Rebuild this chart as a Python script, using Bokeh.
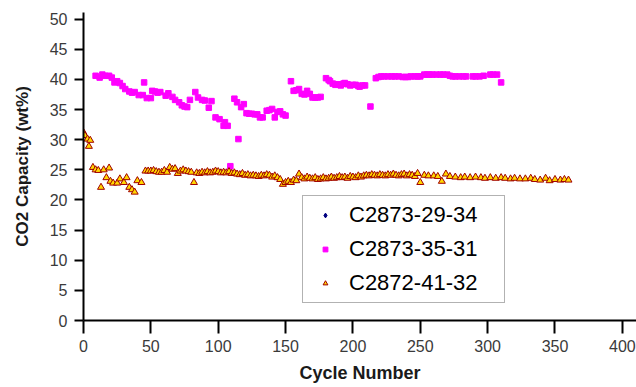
from bokeh.plotting import figure
from bokeh.models import Range1d, FixedTicker, Legend, LegendItem
from bokeh.embed import file_html
from bokeh.resources import INLINE

nan = float("nan")

# ---- data ----
series_names = ["C2873-29-34", "C2873-35-31", "C2872-41-32"]

# first series has no visible points in the chart
s1_cycle = [nan]
s1_cap = [nan]

s2_cycle = [9, 12, 14, 16, 19, 21, 23, 25, 27, 29, 31, 34, 36, 38, 41, 44, 45, 47, 50, 51,
            53, 55, 57, 61, 63, 66, 68, 71, 73, 75, 77, 79, 83, 85, 88, 90, 93, 95, 98, 101,
            104, 105, 107, 109, 112, 114, 115, 117, 119, 121, 123, 125, 127, 129, 131, 133, 136, 138, 140, 142,
            144, 146, 148, 150, 154, 156, 158, 160, 162, 164, 166, 168, 170, 172, 174, 176, 180, 182, 183, 185,
            187, 189, 191, 193, 194, 196, 198, 200, 202, 204, 205, 207, 209, 213, 217, 219, 221, 223, 226, 229,
            231, 234, 237, 239, 241, 243, 246, 248, 250, 253, 255, 257, 259, 262, 265, 267, 270, 272, 274, 276,
            279, 282, 284, 289, 291, 294, 297, 302, 304, 307, 310]
s2_cap = [40.6, 40.3, 40.8, 40.6, 40.6, 40.3, 39.5, 39.7, 39.4, 38.9, 38.4, 38.0, 37.8, 37.9, 37.4, 37.4, 39.5, 36.9, 36.9, 38.1,
          38.0, 37.8, 37.9, 37.3, 37.7, 37.1, 36.6, 36.2, 35.7, 35.5, 35.4, 36.6, 37.9, 37.0, 36.6, 36.5, 35.3, 36.4, 33.7, 33.4,
          32.3, 32.9, 32.3, 25.6, 36.8, 36.2, 30.1, 35.4, 35.9, 34.4, 34.3, 34.3, 34.2, 34.2, 33.7, 33.7, 34.8, 34.9, 35.1, 33.7,
          34.6, 34.7, 34.2, 34.0, 39.7, 38.1, 38.2, 38.4, 37.6, 37.5, 38.1, 37.6, 37.0, 37.0, 37.0, 37.1, 40.2, 39.9, 39.7, 39.3,
          39.1, 39.2, 39.0, 39.3, 39.4, 39.2, 39.0, 39.1, 39.1, 38.9, 38.8, 39.0, 39.0, 35.5, 40.2, 40.4, 40.5, 40.5, 40.5, 40.5,
          40.5, 40.5, 40.4, 40.4, 40.4, 40.5, 40.5, 40.5, 40.5, 40.8, 40.8, 40.8, 40.8, 40.8, 40.8, 40.8, 40.8, 40.6, 40.5, 40.5,
          40.5, 40.5, 40.5, 40.5, 40.5, 40.5, 40.6, 40.8, 40.8, 40.8, 39.5]

s3_cycle = [0, 1, 3, 4, 5, 7, 9, 11, 13, 15, 17, 19, 20, 22, 25, 27, 30, 32, 34, 36,
            38, 40, 43, 46, 48, 50, 52, 54, 56, 58, 60, 62, 64, 66, 68, 70, 72, 74, 76, 78,
            80, 82, 84, 86, 88, 90, 92, 94, 96, 98, 100, 102, 104, 106, 108, 110, 112, 114, 116, 118,
            120, 122, 124, 126, 128, 130, 132, 134, 136, 138, 140, 142, 144, 146, 148, 150, 152, 154, 156, 158,
            160, 162, 164, 166, 168, 170, 172, 174, 176, 178, 180, 182, 184, 186, 188, 190, 192, 194, 196, 198,
            200, 202, 204, 206, 208, 210, 212, 214, 216, 218, 220, 222, 224, 226, 228, 230, 232, 234, 236, 238,
            240, 242, 244, 246, 248, 250, 253, 256, 260, 263, 266, 269, 272, 276, 280, 283, 287, 291, 295, 298,
            302, 306, 310, 313, 317, 320, 324, 328, 332, 335, 339, 343, 346, 350, 354, 357, 360]
s3_cap = [31.2, 30.7, 30.1, 28.9, 29.9, 25.4, 25.0, 24.9, 22.1, 25.0, 23.7, 25.3, 23.1, 22.8, 22.8, 23.5, 22.9, 23.7, 22.1, 21.7,
          21.3, 23.2, 22.9, 24.8, 24.8, 24.8, 24.9, 24.7, 24.6, 24.6, 24.9, 24.6, 25.4, 25.1, 25.2, 24.4, 24.8, 25.0, 24.8, 24.7,
          24.6, 22.9, 24.5, 24.4, 24.6, 24.5, 24.7, 24.5, 24.6, 24.8, 24.7, 24.5, 24.6, 24.5, 24.7, 24.4, 24.5, 24.3, 24.2, 24.4,
          24.1, 24.2, 24.0, 24.1, 24.0, 23.9, 24.1, 24.0, 24.2, 24.1, 23.8, 24.0, 23.7, 23.4, 22.6, 22.9, 23.1, 22.9, 23.3, 23.2,
          24.3, 23.7, 23.5, 23.8, 23.6, 23.5, 23.7, 23.4, 23.5, 23.7, 23.5, 23.6, 23.8, 23.6, 23.7, 23.9, 23.7, 23.8, 23.6, 23.9,
          23.8, 23.7, 24.0, 23.8, 24.0, 24.1, 24.0, 24.2, 24.1, 24.0, 24.2, 24.1, 24.0, 24.2, 24.1, 24.3, 24.1, 24.0, 24.2, 24.3,
          24.0, 24.2, 24.1, 23.9, 24.4, 22.9, 24.1, 24.0, 24.0, 23.9, 23.1, 24.3, 23.9, 23.8, 23.7, 23.8, 23.7, 23.8, 23.7, 23.6,
          23.7, 23.6, 23.7, 23.6, 23.5, 23.6, 23.5, 23.5, 23.6, 23.4, 23.3, 23.6, 23.2, 23.4, 23.3, 23.4, 23.3]

x_ticks = [0, 50, 100, 150, 200, 250, 300, 350, 400]
y_ticks = [0, 5, 10, 15, 20, 25, 30, 35, 40, 45, 50]

# ---- figure ----
p = figure(width=636, height=387, output_backend="svg", toolbar_location=None,
           x_range=Range1d(0, 410.5), y_range=Range1d(0, 51.1),
           min_border_left=83, min_border_right=0, min_border_top=12, min_border_bottom=67)
p.outline_line_color = None
p.grid.visible = False
p.background_fill_color = "white"

TRI_FILL = "#FFD700"
TRI_LINE = "#A00000"

p.scatter(s1_cycle, s1_cap, marker="diamond", size=7, fill_color="#000080", line_color="#000080")
p.scatter(s2_cycle, s2_cap, marker="square", size=5.5, fill_color="#FF00FF", line_color="#FF00FF")
p.scatter(s3_cycle, s3_cap, marker="triangle", size=7, fill_color=TRI_FILL, line_color=TRI_LINE, line_width=1)

# legend-only renderers
l1 = p.scatter(s1_cycle, s1_cap, marker="diamond", fill_color="#000080", line_color="#000080")
l2 = p.scatter(s1_cycle, s1_cap, marker="square", fill_color="#FF00FF", line_color="#FF00FF")
l3 = p.scatter(s1_cycle, s1_cap, marker="triangle", fill_color=TRI_FILL, line_color=TRI_LINE, line_width=1)

for ax in (p.xaxis[0], p.yaxis[0]):
    ax.axis_line_color = "black"
    ax.axis_line_width = 2
    ax.major_tick_line_color = "black"
    ax.major_tick_line_width = 2
    ax.major_tick_in = 0
    ax.minor_tick_line_color = None
    ax.major_label_text_font = "Liberation Sans"
    ax.major_label_text_font_size = "16px"
    ax.major_label_text_color = "#3a3a3a"
    ax.axis_label_text_font = "Liberation Sans"
    ax.axis_label_text_font_style = "bold"
    ax.axis_label_text_color = "#1a1a1a"

p.xaxis[0].ticker = FixedTicker(ticks=x_ticks)
p.yaxis[0].ticker = FixedTicker(ticks=y_ticks)
p.xaxis[0].major_tick_out = 13
p.yaxis[0].major_tick_out = 9
p.xaxis[0].major_label_standoff = 6
p.yaxis[0].major_label_standoff = 7
p.xaxis[0].axis_label = "Cycle Number"
p.yaxis[0].axis_label = "CO2 Capacity (wt%)"
p.xaxis[0].axis_label_text_font_size = "18px"
p.yaxis[0].axis_label_text_font_size = "17px"
p.xaxis[0].axis_label_standoff = 8
p.yaxis[0].axis_label_standoff = 15

legend = Legend(items=[LegendItem(label=series_names[0], renderers=[l1]),
                       LegendItem(label=series_names[1], renderers=[l2]),
                       LegendItem(label=series_names[2], renderers=[l3])],
                location=(219, 17))
legend.border_line_color = "#666666"
legend.border_line_width = 1.5
legend.background_fill_color = "white"
legend.background_fill_alpha = 1
legend.label_text_font = "Liberation Sans"
legend.label_text_font_size = "22px"
legend.label_text_color = "black"
legend.padding = 5
legend.spacing = 6
legend.glyph_height = 12
legend.label_height = 28
legend.glyph_width = 34
legend.label_standoff = 7
legend.label_width = 150
legend.margin = 0
p.add_layout(legend)

open("out.html", "w").write(file_html(p, INLINE))
